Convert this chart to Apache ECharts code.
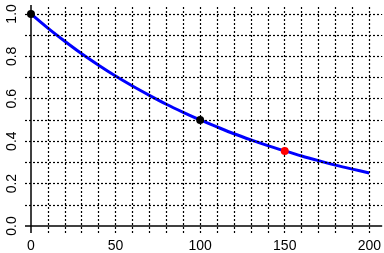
<!DOCTYPE html>
<html>
<head>
<meta charset="utf-8">
<script src="https://cdn.jsdelivr.net/npm/echarts@6/dist/echarts.min.js"></script>
<style>
html,body{margin:0;padding:0;background:#fff;}
#c{width:384px;height:253px;}
</style>
</head>
<body>
<div id="c"></div>
<script>
// curve readings
var curveX = [0,10,20,30,40,50,60,70,80,90,100,110,120,130,140,150,160,170,180,190,200];
var curveY = [1.000,0.933,0.871,0.812,0.758,0.707,0.660,0.616,0.574,0.536,0.500,0.467,0.435,0.406,0.379,0.354,0.330,0.308,0.287,0.268,0.250];
// marked points
var blackPts = [[0,1.0],[100,0.5]];
var redPts = [[150,0.354]];
// ticks
var xTickLabels = [0,50,100,150,200];
var yTickLabels = [0,0.2,0.4,0.6,0.8,1.0];
var xGridVals = [10,20,30,40,50,60,70,80,90,100,110,120,130,140,150,160,170,180,190,200];
var yGridVals = [0.1,0.2,0.3,0.4,0.5,0.6,0.7,0.8,0.9,1.0];

var font = '"Liberation Sans", Arial, sans-serif';
var chart = echarts.init(document.getElementById('c'), null, {renderer:'canvas'});
var gridLine = {color:'#000', width:1.2, type:[2,2]};
chart.setOption({
  animation:false,
  grid:{left:25, right:0, top:5, bottom:19},
  xAxis:{type:'value', min:-3.53, max:207.6,
    axisLine:{show:false}, axisTick:{show:false}, splitLine:{show:false},
    axisLabel:{customValues:xTickLabels, margin:6, color:'#000', fontSize:14, fontFamily:font}},
  yAxis:{type:'value', min:-0.033, max:1.042,
    axisLine:{show:false}, axisTick:{show:false}, splitLine:{show:false},
    axisLabel:{customValues:yTickLabels, rotate:90, margin:6, color:'#000', fontSize:14, fontFamily:font,
      formatter:function(v){return v.toFixed(1);}}},
  series:[
    {type:'line', data:[], silent:true,
      markLine:{silent:true, symbol:'none', label:{show:false}, lineStyle:gridLine, animation:false,
        data: xGridVals.map(function(v){return {xAxis:v};}).concat(yGridVals.map(function(v){return {yAxis:v};}))}},
    {type:'line', data:[], silent:true,
      markLine:{silent:true, symbol:'none', label:{show:false}, lineStyle:{color:'#000', width:1.5, type:'solid'}, animation:false,
        data:[{xAxis:0},{yAxis:0}]}},
    {type:'line', data:curveX.map(function(x,i){return [x,curveY[i]];}), smooth:0.3, showSymbol:false, z:3,
      lineStyle:{color:'#0000ff', width:3}},
    {type:'scatter', data:blackPts, symbolSize:8, z:10, itemStyle:{color:'#000', opacity:1}},
    {type:'scatter', data:redPts, symbolSize:8, z:10, itemStyle:{color:'#ff0000', opacity:1}}
  ]
});
</script>
</body>
</html>
